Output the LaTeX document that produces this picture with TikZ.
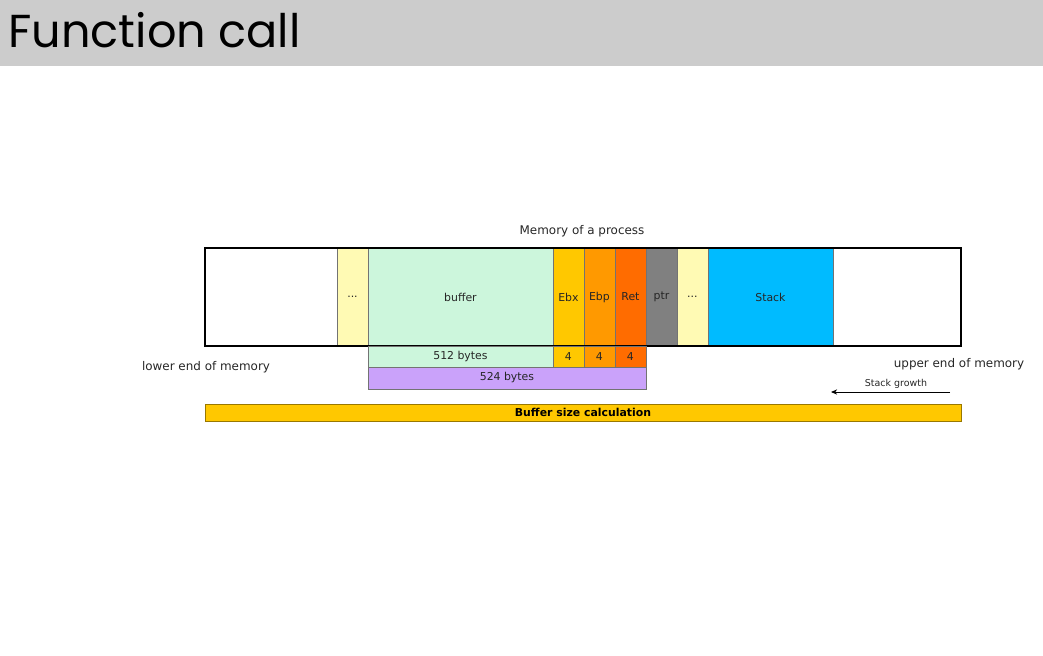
\documentclass[tikz,border=0pt]{standalone}
\usepackage{fontspec}
\setmainfont{DejaVu Sans}
\newfontfamily\titlefont{Poppins}
\usetikzlibrary{positioning,arrows.meta}

\definecolor{headgray}{RGB}{204,204,204}
\definecolor{paleyellow}{RGB}{255,250,180}
\definecolor{buffergreen}{RGB}{204,246,220}
\definecolor{ebxcol}{RGB}{255,200,0}
\definecolor{ebpcol}{RGB}{255,153,0}
\definecolor{retcol}{RGB}{255,108,0}
\definecolor{ptrcol}{RGB}{128,128,128}
\definecolor{stackcol}{RGB}{0,187,255}
\definecolor{lilac}{RGB}{202,162,250}
\definecolor{barcol}{RGB}{255,200,0}

\tikzset{
  cell/.style={draw=black!55, line width=0.3pt, inner sep=0pt, outer sep=0pt,
    minimum height=1.96cm, text=black!85, font=\fontsize{6.2}{7}\selectfont},
  sizecell/.style={cell, minimum height=0.42cm, font=\fontsize{6.2}{7}\selectfont},
  label/.style={inner sep=0pt, text=black!85, font=\fontsize{6.8}{8}\selectfont}
}

\begin{document}
\begin{tikzpicture}[x=0.02cm, y=-0.02cm]
\useasboundingbox (0,0) rectangle (1043,655);
% header band
\fill[headgray] (0,0) rectangle (1043,66);
\node[anchor=base west, inner sep=0pt, font=\titlefont\fontsize{26.3}{30}\selectfont] (title) at (8,48) {Function call};

% memory cells
\node[cell, fill=white, minimum width=2.64cm] (lowfree) at (271,297) {};
\node[cell, fill=paleyellow, minimum width=0.62cm, right=0pt of lowfree] (dotsa) {...};
\node[cell, fill=buffergreen, minimum width=3.7cm, right=0pt of dotsa] (buffer) {buffer};
\node[cell, fill=ebxcol, minimum width=0.62cm, right=0pt of buffer] (ebx) {Ebx};
\node[cell, fill=ebpcol, minimum width=0.62cm, right=0pt of ebx] (ebp) {Ebp};
\node[cell, fill=retcol, minimum width=0.62cm, right=0pt of ebp] (ret) {Ret};
\node[cell, fill=ptrcol, minimum width=0.62cm, right=0pt of ret] (ptr) {ptr};
\node[cell, fill=paleyellow, minimum width=0.62cm, right=0pt of ptr] (dotsb) {...};
\node[cell, fill=stackcol, minimum width=2.5cm, right=0pt of dotsb] (stack) {Stack};
\node[cell, fill=white, minimum width=2.56cm, right=0pt of stack] (highfree) {};
\draw[line width=1.1pt] (lowfree.north west) rectangle (highfree.south east);

% sizes
\node[sizecell, fill=buffergreen, minimum width=3.7cm, below=0pt of buffer] (bufbytes) {512 bytes};
\node[sizecell, fill=ebxcol, minimum width=0.62cm, below=0pt of ebx] (ebxbytes) {4};
\node[sizecell, fill=ebpcol, minimum width=0.62cm, below=0pt of ebp] (ebpbytes) {4};
\node[sizecell, fill=retcol, minimum width=0.62cm, below=0pt of ret] (retbytes) {4};
\node[sizecell, fill=lilac, minimum width=5.56cm, minimum height=0.44cm, anchor=north west] (total) at (bufbytes.south west) {524 bytes};

% labels
\node[label] (memtitle) at (582,231) {Memory of a process};
\node[label] (lowend) at (206,367) {lower end of memory};
\node[label] (highend) at (959,364) {upper end of memory};
\node[label, font=\fontsize{5.4}{6}\selectfont] (growth) at (896,384) {Stack growth};
\coordinate (growthstart) at (950,392);
\coordinate (growthend) at (831,392);
\draw[line width=0.5pt, -{Stealth[length=3.5pt, width=3pt]}] (growthstart) -- (growthend);

% calculation bar
\node[draw=barcol!60!black, line width=0.4pt, fill=barcol, inner sep=0pt, minimum width=15.12cm, minimum height=0.34cm, font=\bfseries\fontsize{6.2}{7}\selectfont] (calc) at (583,412.5) {Buffer size calculation};
\end{tikzpicture}
\end{document}
